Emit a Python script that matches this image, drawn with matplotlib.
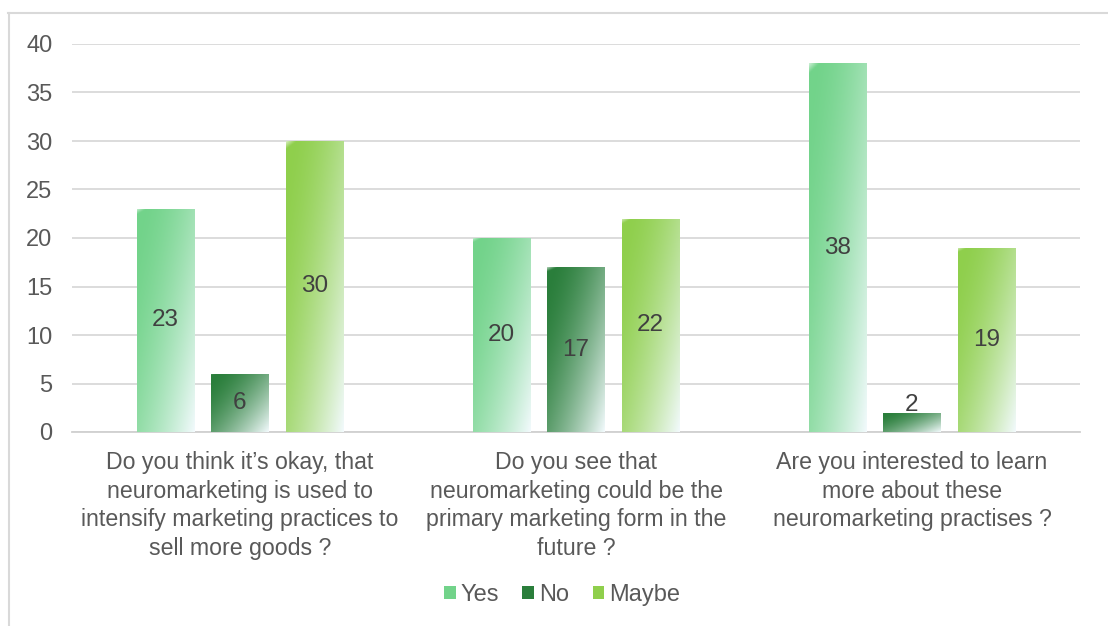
import numpy as np
import matplotlib
matplotlib.use("Agg")
import matplotlib.pyplot as plt
from matplotlib.patches import Patch
from matplotlib.colors import to_rgb
from matplotlib.lines import Line2D

plt.rcParams['font.family'] = ['Liberation Sans', 'DejaVu Sans']

categories = [
    "Do you think it\u2019s okay, that\nneuromarketing is used to\nintensify marketing practices to\nsell more goods ?",
    "Do you see that\nneuromarketing could be the\nprimary marketing form in the\nfuture ?",
    "Are you interested to learn\nmore about these\nneuromarketing practises ?",
]
series_names = ["Yes", "No", "Maybe"]
yes_vals = [23, 20, 38]
no_vals = [6, 17, 2]
maybe_vals = [30, 22, 19]
yticks = [0, 5, 10, 15, 20, 25, 30, 35, 40]

series_vals = [yes_vals, no_vals, maybe_vals]
colors = ["#72d38a", "#2a7e3b", "#8fcf4c"]
text_color = "#404040"

fig = plt.figure(figsize=(11.08, 6.26), dpi=100)
W, H = 1108, 626
ax = fig.add_axes([72 / W, (H - 432) / H, (1080 - 72) / W, (432 - 44) / H])

x = np.arange(len(categories))
width = 0.17
offset = 0.222

# gradient template
ny, nx = 200, 60
u = np.linspace(0, 1, nx)[None, :]
v = np.linspace(0, 1, ny)[:, None]
t = 0.55 * u + 0.45 * v
t = np.clip(t, 0, 1)


def grad_img(c):
    c = np.array(to_rgb(c))
    white = np.array([0.95, 0.98, 0.99])
    f = np.clip((t - 0.05) / 0.95, 0, 1) ** 1.6
    img = c[None, None, :] * (1 - f[..., None]) + white[None, None, :] * f[..., None]
    # small highlight at top-left corner
    hl = np.clip(1 - (u * 6 + v * 40), 0, 1)[..., None] * 0.6
    hl = np.broadcast_to(hl, img.shape)
    img = img * (1 - hl) + hl
    return img


for i, (vals, col, name) in enumerate(zip(series_vals, colors, series_names)):
    pos = x + (i - 1) * offset
    bars = ax.bar(pos, vals, width=width, color="none", edgecolor="none", zorder=3)
    for b, val in zip(bars, vals):
        x0, y0 = b.get_x(), b.get_y()
        w, h = b.get_width(), b.get_height()
        im = ax.imshow(grad_img(col), extent=(x0, x0 + w, y0, y0 + h),
                       aspect="auto", origin="upper", zorder=3, interpolation="bilinear")
        im.set_clip_path(b)
        ax.text(x0 + w / 2, max(val / 2, 2.8), str(val), ha="center", va="center",
                fontsize=17.5, color=text_color, zorder=5)

ax.set_xlim(-0.5, 2.5)
ax.set_ylim(0, 40)
ax.set_yticks(yticks)
ax.set_yticklabels([str(y) for y in yticks])
ax.yaxis.grid(True, color="#d9d9d9", linewidth=1.3, zorder=0)
ax.set_axisbelow(True)
for s in ["top", "right", "left"]:
    ax.spines[s].set_visible(False)
ax.spines["bottom"].set_color("#d0d0d0")
ax.spines["bottom"].set_linewidth(1.3)
ax.tick_params(axis="y", length=0, pad=14, labelsize=17, labelcolor="#595959")
ax.set_xticks(x)
ax.set_xticklabels(categories, fontsize=16.7, color="#595959", linespacing=1.3)
ax.tick_params(axis="x", length=0, pad=14)

handles = [Patch(facecolor=c, edgecolor="none") for c in colors]
fig.legend(handles, series_names, loc="center", bbox_to_anchor=(562 / W, 1 - 595 / H),
           ncol=3, frameon=False, fontsize=17, handlelength=0.5, handleheight=0.5,
           handletextpad=0.2, columnspacing=1.0, labelcolor="#595959")

# outer frame (top and left edges visible)
fig.add_artist(Line2D([8 / W, 1.0], [1 - 13 / H, 1 - 13 / H], transform=fig.transFigure,
                      color="#d9d9d9", linewidth=1.5))
fig.add_artist(Line2D([8.5 / W, 8.5 / W], [0, 1 - 13 / H], transform=fig.transFigure,
                      color="#d9d9d9", linewidth=1.5))

fig.savefig("out.png", dpi=100, facecolor="white")
